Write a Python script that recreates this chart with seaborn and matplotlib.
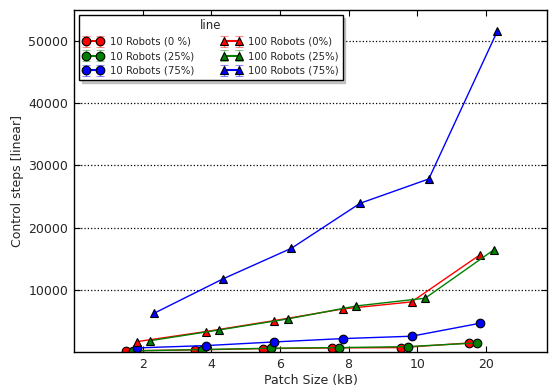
import numpy as np
import pandas as pd
import matplotlib
matplotlib.use("Agg")
import matplotlib.pyplot as plt
from matplotlib.container import ErrorbarContainer
from matplotlib.legend_handler import HandlerErrorbar
import seaborn as sns

# Patch sizes (kB) shown as evenly spaced categories
patch_sizes = ["2", "4", "6", "8", "10", "20"]

# Series labels
series = [
    "10 Robots (0 %)",
    "10 Robots (25%)",
    "10 Robots (75%)",
    "100 Robots (0%)",
    "100 Robots (25%)",
    "100 Robots (75%)",
]

# Control steps per series, one value per patch size
r10_p0 = [200, 340, 550, 660, 710, 1460]
r10_p25 = [180, 390, 610, 710, 870, 1460]
r10_p75 = [660, 1030, 1620, 2160, 2540, 4630]
r100_p0 = [1670, 3280, 5050, 6930, 8060, 15660]
r100_p25 = [1830, 3550, 5320, 7410, 8650, 16420]
r100_p75 = [6240, 11750, 16690, 23920, 27830, 51630]
values = [r10_p0, r10_p25, r10_p75, r100_p0, r100_p25, r100_p75]

# Drawing style per series
colors = ["#ff0000", "#008000", "#0000ff", "#ff0000", "#008000", "#0000ff"]
markers = ["o", "o", "o", "^", "^", "^"]
offsets = [-0.24, -0.135, -0.083, -0.083, 0.114, 0.168]
MS = 6.2

rows = []
for name, vals, off in zip(series, values, offsets):
    for i, v in enumerate(vals):
        rows.append({"line": name, "pos": i + 1 + off, "steps": v})
df = pd.DataFrame(rows)

sns.set_style("ticks")
plt.rcParams["font.family"] = ["DejaVu Sans"]

fig = plt.figure(figsize=(5.49, 3.90), dpi=100)
ax = fig.add_axes([0.1348, 0.0974, 0.8616, 0.877])

sns.lineplot(
    data=df, x="pos", y="steps", hue="line", style="line",
    hue_order=series, style_order=series,
    palette=dict(zip(series, colors)),
    markers=dict(zip(series, markers)), dashes=False,
    markersize=MS, markeredgecolor="black", markeredgewidth=0.8,
    linewidth=1.0, legend=False, ax=ax, estimator=None, sort=True,
)

# Legend entries drawn as error-bar handles
handles = []
for name, c, m in zip(series, colors, markers):
    h = ax.errorbar([np.nan], [np.nan], yerr=[0], fmt="-", marker=m, color=c,
                    markersize=MS, markeredgecolor="black", markeredgewidth=0.8,
                    ecolor=c, elinewidth=1, capsize=3.2, capthick=1.2,
                    label=name)
    for cap in h[1]:
        cap.set_alpha(0.45)
    for bar in h[2]:
        bar.set_alpha(0.45)
    handles.append(h)

leg = ax.legend(handles=handles, labels=series, title="line", ncol=2,
                loc="upper left", bbox_to_anchor=(0.0045, 0.994),
                numpoints=2, fontsize=7.3, title_fontsize=8.5,
                frameon=True, fancybox=False,
                shadow={"color": "0.55", "alpha": 0.45},
                borderpad=0.4, labelspacing=0.45, handlelength=2.0,
                handletextpad=0.6, columnspacing=2.7, borderaxespad=0.3,
                handler_map={ErrorbarContainer: HandlerErrorbar(yerr_size=0.55)})
leg.get_frame().set_edgecolor("black")
leg.get_frame().set_linewidth(1.0)

ax.set_xlim(0, 6.89)
ax.set_xticks(range(1, len(patch_sizes) + 1))
ax.set_xticklabels(patch_sizes)
ax.set_ylim(0, 55000)
ax.set_yticks([10000, 20000, 30000, 40000, 50000])

ax.yaxis.grid(True, linestyle=":", color="black", linewidth=0.9)
ax.xaxis.grid(False)
ax.tick_params(direction="in", top=True, right=True, length=4,
               width=0.8, labelsize=9, color="black", pad=4)
for s in ax.spines.values():
    s.set_visible(True)
    s.set_color("black")
    s.set_linewidth(1.0)

ax.set_xlabel("Patch Size (kB)", fontsize=9, labelpad=2.5)
ax.set_ylabel("Control steps [linear]", fontsize=9, labelpad=3)

fig.savefig("out.png", dpi=100)
